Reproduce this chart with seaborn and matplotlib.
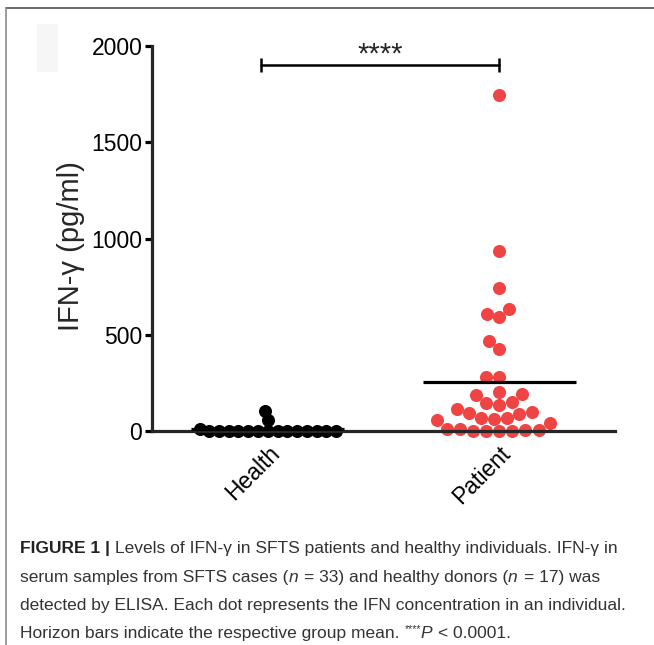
import matplotlib
matplotlib.use("Agg")
import matplotlib.pyplot as plt
import seaborn as sns
import pandas as pd
import numpy as np
from matplotlib.lines import Line2D
from matplotlib.patches import Rectangle
from matplotlib.transforms import IdentityTransform

# data
groups = ["Health", "Patient"]
health_vals = [0] * 14 + [10, 57, 104]
patient_vals = [1745, 935, 745, 635, 610, 590, 465, 425, 280, 280,
                205, 190, 185, 150, 145, 135, 115, 100, 95,
                90, 70, 65, 60, 55, 40,
                0, 0, 0, 0, 5, 5, 10, 10]
yticks = [0, 500, 1000, 1500, 2000]
ylabel = "IFN-γ (pg/ml)"
sig_label = "****"
colors = {"Health": "black", "Patient": "#F04343"}
# swarm spacing per group (Prism lets the dots overlap a bit)
swarm_size = {"Health": 6.7, "Patient": 9.0}

caption = [
    [("FIGURE 1 |", "bold"), (" Levels of IFN-γ in SFTS patients and healthy individuals. IFN-γ in", "normal")],
    [("serum samples from SFTS cases (", "normal"), ("n", "italic"), (" = 33) and healthy donors (", "normal"),
     ("n", "italic"), (" = 17) was", "normal")],
    [("detected by ELISA. Each dot represents the IFN concentration in an individual.", "normal")],
    [("Horizon bars indicate the respective group mean. ", "normal"), ("****", "sup"), ("P", "italic"),
     (" < 0.0001.", "normal")],
]

sns.set_style("ticks")
plt.rcParams["font.family"] = ["Liberation Sans", "DejaVu Sans"]

W, H = 654, 645
fig = plt.figure(figsize=(W / 100, H / 100), dpi=100)
ax = fig.add_axes([152 / W, 1 - 431 / H, 463 / W, 385 / H])

df = pd.DataFrame({
    "group": ["Health"] * len(health_vals) + ["Patient"] * len(patient_vals),
    "value": health_vals + patient_vals,
})

for g in groups:
    sns.swarmplot(data=df[df["group"] == g], x="group", y="value", order=groups,
                  color=colors[g], size=swarm_size[g], linewidth=0,
                  clip_on=False, ax=ax, zorder=2)
ax.set_xlim(-0.5, 1.5)
ax.set_ylim(0, 2000)
# run the beeswarm layout once, then freeze it and enlarge the dots
fig.canvas.draw()
for coll in ax.collections:
    coll.__dict__.pop("draw", None)
    coll.set_sizes([9.4 ** 2])

# group means
for i, vals in enumerate([health_vals, patient_vals]):
    ax.hlines(np.mean(vals), i - 0.33, i + 0.33, color="black", lw=2.3, zorder=3)

# significance bracket
ax.plot([-0.03, 1.0], [1900, 1900], color="black", lw=1.8, clip_on=False)
ax.vlines([-0.03, 1.0], 1863, 1937, color="black", lw=1.8, clip_on=False)
ax.text(0.485, 1955, sig_label, ha="center", va="center", fontsize=21)

sns.despine(ax=ax)
for side in ["left", "bottom"]:
    ax.spines[side].set_linewidth(2.3)
    ax.spines[side].set_capstyle("projecting")
ax.set_yticks(yticks)
ax.tick_params(axis="y", length=5, width=2.3, labelsize=16.5, pad=2, colors="black")
ax.tick_params(axis="x", length=2.5, width=2, labelsize=16.5, pad=5, colors="black")
ax.set_xticks([0, 1], groups, rotation=45, ha="right", rotation_mode="anchor")
ax.set_xlabel("")
ax.set_ylabel(ylabel, fontsize=21)
ax.yaxis.set_label_coords(-0.145, 0.48)
ax.patch.set_visible(False)

# page frame and faint patch
fig.add_artist(Line2D([6 / W, 1], [1 - 8 / H, 1 - 8 / H], color="#505050", lw=1.2))
fig.add_artist(Line2D([6 / W, 6 / W], [0, 1 - 8 / H], color="#8c8c8c", lw=1.2))
fig.add_artist(Rectangle((37 / W, 1 - 71 / H), 20 / W, 47 / H, color="#f6f6f6", zorder=0))

# caption, drawn run by run
renderer = fig.canvas.get_renderer()
cap_fs = 12.5
cap_color = "#333333"
t1 = fig.text(0, 0, "a a", fontsize=cap_fs)
t2 = fig.text(0, 0, "aa", fontsize=cap_fs)
space_w = t1.get_window_extent(renderer).width - t2.get_window_extent(renderer).width
t1.remove()
t2.remove()

baselines = [H - 553, H - 582, H - 610, H - 638]
for yb, runs in zip(baselines, caption):
    x = 20
    for text, style in runs:
        lead = len(text) - len(text.lstrip(" "))
        trail = len(text) - len(text.rstrip(" "))
        x += lead * space_w
        kw = dict(fontsize=cap_fs, color=cap_color, va="baseline", transform=IdentityTransform())
        y = yb
        if style == "bold":
            kw["fontweight"] = "bold"
            kw["color"] = "#222222"
        elif style == "italic":
            kw["fontstyle"] = "italic"
        elif style == "sup":
            kw["fontsize"] = cap_fs * 0.6
            y = yb + 6
        t = fig.text(x, y, text.strip(" "), **kw)
        x = t.get_window_extent(renderer).x1 + trail * space_w + (1 if style == "italic" else 0)

fig.savefig("out.png", dpi=100)
